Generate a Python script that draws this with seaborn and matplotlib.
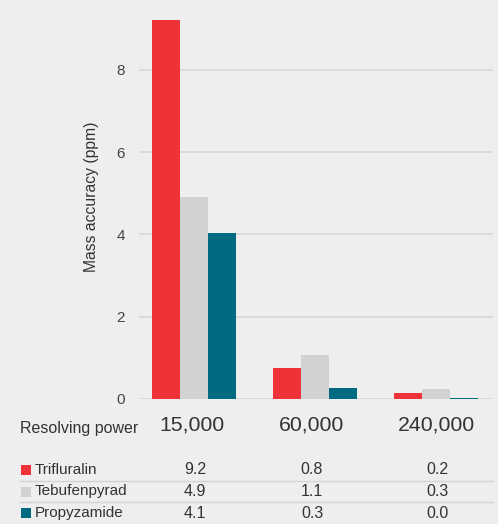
import pandas as pd
import matplotlib.pyplot as plt
import seaborn as sns
from matplotlib.patches import Rectangle

# values
resolving = ['15,000', '60,000', '240,000']
compounds = ['Trifluralin', 'Tebufenpyrad', 'Propyzamide']
trifluralin = [9.2, 0.75, 0.14]
tebufenpyrad = [4.9, 1.06, 0.24]
propyzamide = [4.04, 0.26, 0.03]
# rounded values shown in the table under the chart
table_rows = [['9.2', '0.8', '0.2'],
              ['4.9', '1.1', '0.3'],
              ['4.1', '0.3', '0.0']]
colors = ['#ef3237', '#d1d2d4', '#006a80']

df = pd.DataFrame({
    'resolving': resolving * 3,
    'compound': [c for c in compounds for _ in resolving],
    'value': trifluralin + tebufenpyrad + propyzamide,
})

sns.set_style('white')
plt.rcParams['font.family'] = ['Liberation Sans', 'DejaVu Sans']

W, H = 498, 524
fig = plt.figure(figsize=(W / 100, H / 100), dpi=100, facecolor='#eeeeee')
ax = fig.add_axes([139 / W, 1 - 399 / H, (493 - 139) / W, (399 - 8) / H])
ax.set_facecolor('none')

sns.barplot(data=df, x='resolving', y='value', hue='compound', order=resolving,
            hue_order=compounds, palette=colors, width=0.7, gap=0,
            saturation=1, ax=ax, legend=False, edgecolor='none', zorder=3)

ax.set_ylim(0, 9.5)
ax.set_xlim(-0.455, 2.47)
ax.set_yticks([0, 2, 4, 6, 8])
ax.yaxis.grid(True, color='#d6d6d6', linewidth=1.2, zorder=0)
ax.set_axisbelow(True)
for s in ax.spines.values():
    s.set_visible(False)
ax.set_xticks([])
ax.set_xlabel('')
ax.set_ylabel('Mass accuracy (ppm)', fontsize=11.3, color='#333333')
ax.yaxis.set_label_coords(-0.112, 0.517)
ax.tick_params(axis='y', length=0, pad=10, labelsize=11, labelcolor='#444444')

# table under the chart
def fy(py):
    return 1 - py / H

def fx(px):
    return px / W

fig.text(fx(20), fy(429), 'Resolving power', fontsize=11.5, color='#333333',
         va='center', ha='left')
col_x = [192, 311, 436]
for x, lab in zip(col_x, resolving):
    fig.text(fx(x), fy(425), lab, fontsize=15.3, color='#333333',
             va='center', ha='center')

row_y = [470, 491.5, 513]
val_x = [195, 312, 437]
for y, name, col, vals in zip(row_y, compounds, colors, table_rows):
    fig.patches.append(Rectangle((fx(21), fy(y + 5)), 10 / W, 10 / H,
                                 transform=fig.transFigure, facecolor=col,
                                 edgecolor='none'))
    fig.text(fx(35), fy(y), name, fontsize=11, color='#333333',
             va='center', ha='left')
    for x, v in zip(val_x, vals):
        fig.text(fx(x), fy(y), v, fontsize=11.5, color='#333333',
                 va='center', ha='center')

for y in [480.5, 502]:
    fig.add_artist(plt.Line2D([fx(20), fx(493)], [fy(y), fy(y)],
                              transform=fig.transFigure, color='#d4d4d4',
                              linewidth=1))

fig.savefig('out.png', dpi=100, facecolor=fig.get_facecolor())
